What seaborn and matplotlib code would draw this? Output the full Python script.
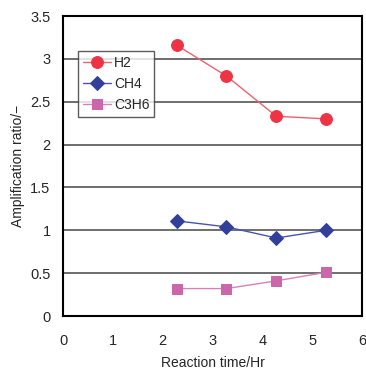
import matplotlib
matplotlib.use("Agg")
import matplotlib.pyplot as plt
import seaborn as sns
import pandas as pd

time_hr = [2.28, 3.28, 4.28, 5.28]
h2 = [3.16, 2.80, 2.33, 2.30]
ch4 = [1.11, 1.04, 0.91, 1.00]
c3h6 = [0.32, 0.32, 0.41, 0.51]
series_names = ["H2", "CH4", "C3H6"]
x_ticks = [0, 1, 2, 3, 4, 5, 6]
y_ticks = [0, 0.5, 1, 1.5, 2, 2.5, 3, 3.5]

sns.set_style("white")
plt.rcParams['font.family'] = ['Liberation Sans', 'DejaVu Sans']

df = pd.DataFrame({
    "time": time_hr * 3,
    "value": h2 + ch4 + c3h6,
    "gas": [series_names[0]] * 4 + [series_names[1]] * 4 + [series_names[2]] * 4,
})

fig = plt.figure(figsize=(3.66, 3.69), dpi=100)
ax = fig.add_axes([63/366, 1 - 316/369, 299/366, 300/369])

styles = {
    "H2": dict(color="#EE3344", line="#F26070", marker="o", ms=8.5),
    "CH4": dict(color="#33409A", line="#4855B0", marker="D", ms=7),
    "C3H6": dict(color="#CC66AA", line="#D880BB", marker="s", ms=7.5),
}
for name in series_names:
    s = styles[name]
    sub = df[df["gas"] == name]
    sns.lineplot(data=sub, x="time", y="value", ax=ax, color=s["line"], lw=1.0,
                 marker=s["marker"], markersize=s["ms"], markerfacecolor=s["color"],
                 markeredgecolor=s["color"], label=name, zorder=3)

ax.set_xlim(0, 6)
ax.set_ylim(0, 3.5)
ax.set_xticks(x_ticks)
ax.set_yticks(y_ticks)
ax.set_xticklabels([str(v) for v in x_ticks])
ax.set_yticklabels(["0", "0.5", "1", "1.5", "2", "2.5", "3", "3.5"])
ax.yaxis.grid(True, color="#555555", lw=1.2)
ax.xaxis.grid(False)
for sp in ax.spines.values():
    sp.set_color("black")
    sp.set_linewidth(1.5)
ax.tick_params(axis="x", direction="in", length=4, width=1, pad=13, labelsize=10.5)
ax.tick_params(axis="y", length=0, pad=9, labelsize=10.5)
ax.set_xlabel("Reaction time/Hr", fontsize=10, labelpad=6)
ax.set_ylabel("Amplification ratio/\u2212", fontsize=10, labelpad=4)

leg = ax.legend(loc="upper left", bbox_to_anchor=(15/299, 1 - 35/300), frameon=True,
                fancybox=False, edgecolor="#333333", fontsize=10, handlelength=2.0,
                borderpad=0.35, labelspacing=0.5, handletextpad=0.25, borderaxespad=0)
leg.get_frame().set_linewidth(1.0)

fig.savefig("out.png", dpi=100)
